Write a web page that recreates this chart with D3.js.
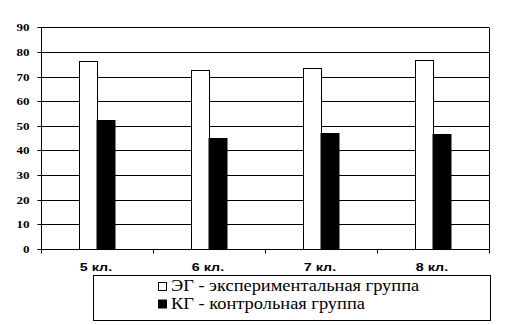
<!DOCTYPE html>
<html>
<head>
<meta charset="utf-8">
<script src="https://cdn.jsdelivr.net/npm/d3@7"></script>
<style>
html,body{margin:0;padding:0;background:#fff;}
svg{display:block;}
</style>
</head>
<body>
<svg id="chart" width="505" height="325"></svg>
<script>
const categories = ["5 кл.", "6 кл.", "7 кл.", "8 кл."];
const seriesNames = ["ЭГ - экспериментальная группа", "КГ - контрольная группа"];
const egValues = [76.2, 72.5, 73.3, 76.6];
const kgValues = [52.3, 45.0, 47.0, 46.6];
const yTicks = [0, 10, 20, 30, 40, 50, 60, 70, 80, 90];

const SERIF = '"Liberation Serif", "Times New Roman", serif';
const SANS = '"Liberation Sans", Arial, sans-serif';

const svg = d3.select("#chart");
const pLeft = 41, pRight = 489, pTop = 27.3, pBottom = 248.7;

const x = d3.scaleBand().domain(categories).range([pLeft, pRight]).padding(0);
const xSub = d3.scaleBand().domain([0, 1]).range([0, x.bandwidth()]).paddingOuter(2.11).paddingInner(0);
const y = d3.scaleLinear().domain([0, 90]).range([pBottom, pTop]);

const px = v => Math.round(v) + 0.5;
function stretch(sel, factor) {
  sel.each(function () {
    const w = this.getComputedTextLength();
    d3.select(this).attr("textLength", w * factor).attr("lengthAdjust", "spacingAndGlyphs");
  });
}

// gridlines
svg.append("g").selectAll("line").data(yTicks.filter(d => d > 0)).join("line")
  .attr("x1", pLeft).attr("x2", pRight)
  .attr("y1", d => px(y(d))).attr("y2", d => px(y(d)))
  .attr("stroke", "#000").attr("stroke-width", 1);

// right border
svg.append("line").attr("x1", px(pRight)).attr("x2", px(pRight))
  .attr("y1", px(y(90))).attr("y2", px(y(0)))
  .attr("stroke", "#000");

// y axis
const yAxis = d3.axisLeft(y).tickValues(yTicks).tickSize(4).tickPadding(8).tickFormat(d3.format("d"));
const gy = svg.append("g").attr("transform", `translate(${px(pLeft)},0.5)`).call(yAxis);
gy.attr("font-family", null).attr("font-size", null);
gy.select(".domain").attr("d", `M0,${Math.round(y(90))}V${Math.round(y(0))}`).attr("stroke", "#000");
gy.selectAll(".tick line").attr("stroke", "#000");
gy.selectAll(".tick").attr("transform", d => `translate(0,${Math.round(y(d))})`);
gy.selectAll("text")
  .style("font-family", SERIF).style("font-weight", "bold").style("font-size", "11px")
  .attr("fill", "#000").attr("dy", "0.3em");
stretch(gy.selectAll("text"), 1.18);

// x axis baseline + ticks at band boundaries
svg.append("line").attr("x1", pLeft).attr("x2", pRight + 0.5)
  .attr("y1", px(y(0))).attr("y2", px(y(0))).attr("stroke", "#000");
const boundaries = categories.map(c => x(c)).concat([pRight]);
svg.append("g").selectAll("line").data(boundaries).join("line")
  .attr("x1", d => px(d)).attr("x2", d => px(d))
  .attr("y1", px(y(0))).attr("y2", px(y(0)) + 4)
  .attr("stroke", "#000");

// x labels
const xl = svg.append("g").selectAll("text").data(categories).join("text")
  .attr("x", d => x(d) + x.bandwidth() / 2 - 1)
  .attr("y", 271)
  .attr("text-anchor", "middle")
  .style("font-family", SANS).style("font-weight", "bold").style("font-size", "11px")
  .text(d => d);
stretch(xl, 1.3);

// bars
const data = categories.map((c, i) => ({c, vals: [egValues[i], kgValues[i]]}));
const groups = svg.append("g").selectAll("g").data(data).join("g")
  .attr("transform", d => `translate(${x(d.c)},0)`);
groups.selectAll("rect").data(d => d.vals.map((v, k) => ({v, k}))).join("rect")
  .attr("x", d => Math.round(xSub(d.k)) + (d.k === 0 ? 0.5 : 0))
  .attr("y", d => Math.round(y(d.v)) + 0.5)
  .attr("width", d => Math.round(xSub.bandwidth()))
  .attr("height", d => Math.round(y(0)) - Math.round(y(d.v)))
  .attr("fill", d => d.k === 0 ? "#fff" : "#000")
  .attr("stroke", "#000").attr("stroke-width", 1);

// legend
const lg = svg.append("g");
lg.append("rect").attr("x", 93.5).attr("y", 275.5).attr("width", 397).attr("height", 45)
  .attr("fill", "#fff").attr("stroke", "#000");
const legendRows = seriesNames.map((name, i) => ({name, i}));
lg.selectAll("rect.sw").data(legendRows).join("rect").attr("class", "sw")
  .attr("x", 158.5).attr("y", d => 282.5 + d.i * 17.5).attr("width", 8).attr("height", 8)
  .attr("fill", d => d.i === 0 ? "#fff" : "#000").attr("stroke", "#000");
const lt = lg.selectAll("text").data(legendRows).join("text")
  .attr("x", 171).attr("y", d => 291 + d.i * 17.5)
  .style("font-family", SERIF).style("font-size", "16px").attr("fill", "#000")
  .text(d => d.name);
stretch(lt, 1.15);
</script>
</body>
</html>
